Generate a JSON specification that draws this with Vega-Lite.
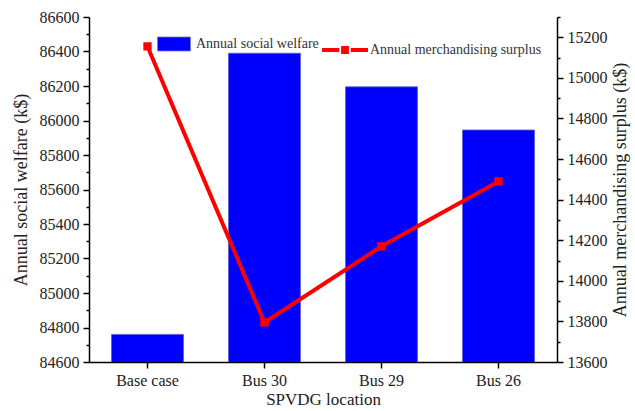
{
  "$schema": "https://vega.github.io/schema/vega-lite/v6.json",
  "autosize": {"type": "none"},
  "padding": {"left": 89, "top": 17, "right": 78, "bottom": 49},
  "width": 468,
  "height": 345,
  "background": "white",
  "config": {
    "view": {"stroke": null},
    "font": "Liberation Serif",
    "axis": {
      "labelFont": "Liberation Serif",
      "titleFont": "Liberation Serif",
      "labelFontSize": 16,
      "titleFontSize": 18,
      "titleFontWeight": "normal",
      "labelColor": "#222",
      "titleColor": "#222",
      "domainColor": "#000",
      "tickColor": "#000",
      "domainWidth": 1.5,
      "tickWidth": 1.5,
      "grid": false
    },
    "legend": {
      "labelFont": "Liberation Serif",
      "labelFontSize": 14,
      "labelColor": "#333",
      "labelLimit": 0
    }
  },
  "data": {
    "values": [
      {"location": "Base case", "welfare": 84760, "surplus": 15155},
      {"location": "Bus 30", "welfare": 86390, "surplus": 13795},
      {"location": "Bus 29", "welfare": 86195, "surplus": 14170},
      {"location": "Bus 26", "welfare": 85945, "surplus": 14490}
    ]
  },
  "encoding": {
    "x": {
      "field": "location",
      "type": "nominal",
      "sort": null,
      "scale": {"paddingInner": 0.385, "paddingOuter": 0.1925},
      "axis": {
        "labelAngle": 0,
        "tickSize": 6,
        "labelPadding": 4,
        "title": "SPVDG location",
        "titleFontSize": 17,
        "titlePadding": 3
      }
    }
  },
  "layer": [
    {
      "mark": {"type": "bar", "clip": true, "stroke": "#5a5ad0", "strokeWidth": 0.8},
      "encoding": {
        "y": {
          "field": "welfare",
          "type": "quantitative",
          "scale": {"domain": [84600, 86600], "nice": false, "zero": false},
          "axis": {
            "title": "Annual social welfare (k$)",
            "values": [84600, 84700, 84800, 84900, 85000, 85100, 85200, 85300, 85400, 85500, 85600, 85700, 85800, 85900, 86000, 86100, 86200, 86300, 86400, 86500, 86600],
            "labelExpr": "datum.value % 200 === 0 ? datum.label : ''",
            "format": "d",
            "tickSize": {"condition": {"test": "datum.value % 200 === 0", "value": 6}, "value": 3},
            "labelPadding": 4,
            "titlePadding": 9
          }
        },
        "fill": {
          "datum": "Annual social welfare",
          "scale": {"range": ["#0000ff"]},
          "legend": {
            "title": null,
            "orient": "none",
            "legendX": 68,
            "legendY": 10,
            "padding": 0,
            "symbolType": "M-1,-0.424H1V0.424H-1Z",
            "symbolSize": 1089,
            "symbolStrokeColor": "#7777cc",
            "symbolStrokeWidth": 0.8,
            "labelOffset": 5
          }
        }
      }
    },
    {
      "mark": {
        "type": "line",
        "strokeWidth": 4,
        "point": {"filled": true, "shape": "square", "size": 40, "fill": "#ff0000"}
      },
      "encoding": {
        "y": {
          "field": "surplus",
          "type": "quantitative",
          "scale": {"domain": [13600, 15300], "nice": false, "zero": false},
          "axis": {
            "orient": "right",
            "title": "Annual merchandising surplus (k$)",
            "titleAngle": 270,
            "titleBaseline": "top",
            "values": [13600, 13700, 13800, 13900, 14000, 14100, 14200, 14300, 14400, 14500, 14600, 14700, 14800, 14900, 15000, 15100, 15200, 15300],
            "labelExpr": "datum.value % 200 === 0 ? datum.label : ''",
            "format": "d",
            "tickSize": {"condition": {"test": "datum.value % 200 === 0", "value": 6}, "value": 3},
            "labelPadding": 4,
            "titlePadding": 4
          }
        },
        "stroke": {
          "datum": "Annual merchandising surplus",
          "scale": {"range": ["#ff0000"]},
          "legend": {
            "title": null,
            "orient": "none",
            "legendX": 233,
            "legendY": 10,
            "padding": 0,
            "symbolType": "M-1,-0.087H-0.25V0.087H-1Z M0.25,-0.087H1V0.087H0.25Z M-0.17,-0.17H0.17V0.17H-0.17Z",
            "symbolSize": 2116,
            "symbolFillColor": "#ff0000",
            "symbolStrokeWidth": 0,
            "labelOffset": 2
          }
        }
      }
    }
  ],
  "resolve": {"scale": {"y": "independent", "fill": "independent", "stroke": "independent"}}
}
